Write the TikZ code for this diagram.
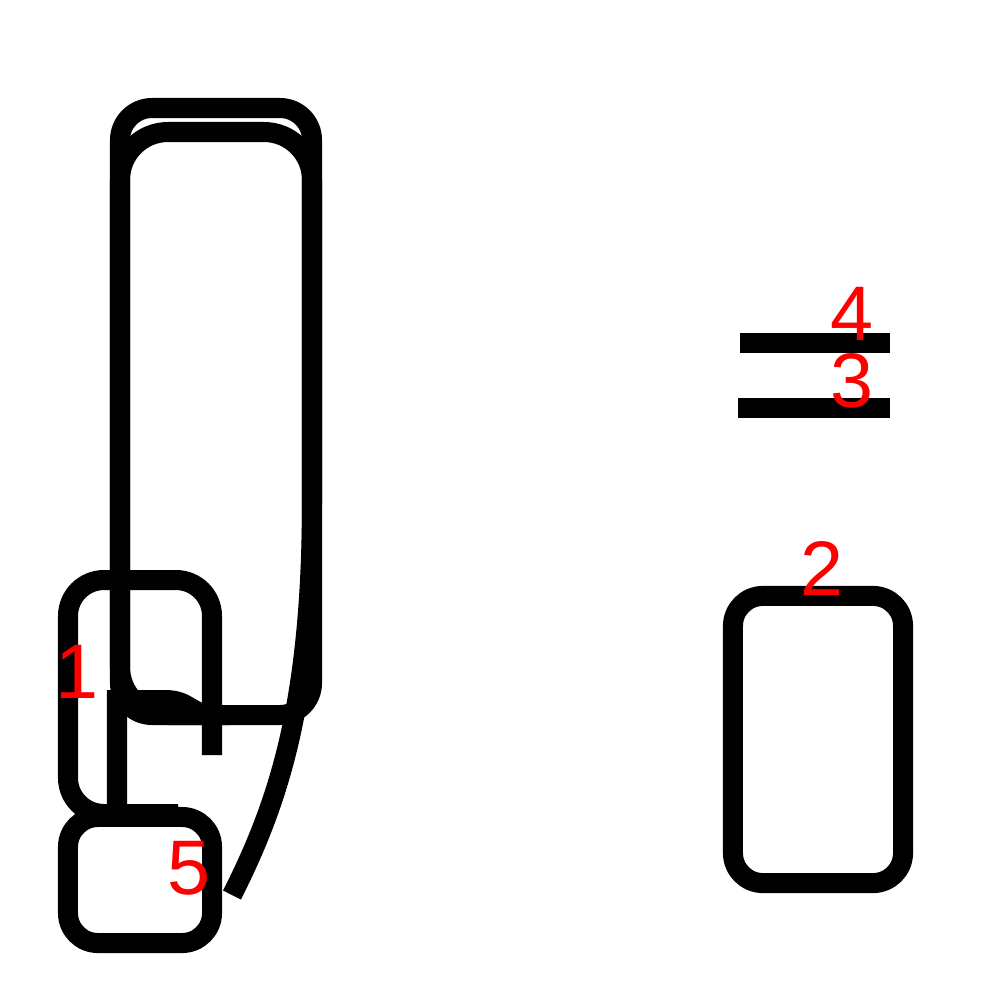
\documentclass[tikz,border=0pt]{standalone}
\usepackage{fontspec}
\setmainfont{Liberation Sans}
\usepackage{tikz}
\usetikzlibrary{positioning}
\definecolor{trazo}{HTML}{000000}
\definecolor{rojo}{HTML}{FF0000}

\begin{document}
\begin{tikzpicture}[x=0.01cm, y=-0.01cm, line width=0.2cm,
    caja/.style={draw=trazo, line width=0.2cm, rounded corners=0.3cm, inner sep=0pt},
    etiqueta/.style={text=rojo, font=\fontsize{22}{26}\selectfont, inner sep=0pt}]
  \useasboundingbox (0,0) rectangle (1000,1000);
  % columna alta
  \draw[draw=trazo, rounded corners=0.32cm] (120,108) rectangle (312,715);
  \draw[draw=trazo, rounded corners=0.48cm] (230,715) -- (120,715) -- (120,132) -- (312,132) -- (312,450)
    .. controls (312,700) and (280,800) .. (232,895);
  \draw[draw=trazo] (117,807) -- (117,700) -- (165,700) .. controls (190,700) and (190,715) .. (215,715);
  % cajas
  \draw[draw=trazo, rounded corners=0.36cm] (212,755) -- (212,580) -- (68,580) -- (68,814) -- (178,814);
  \node[caja, minimum width=1.44cm, minimum height=1.26cm] (caja5) at (140,880) {};
  \node[caja, minimum width=1.7cm, minimum height=2.87cm] (caja2) at (818,739.5) {};
  % barras
  \coordinate (b4i) at (740,343);
  \coordinate (b4d) at (890,343);
  \coordinate (b3i) at (738,407.5);
  \coordinate (b3d) at (890,407.5);
  \draw[draw=trazo] (b4i) -- (b4d);
  \draw[draw=trazo] (b3i) -- (b3d);
  % etiquetas
  \node[etiqueta] (e1) at (77,672) {1};
  \node[etiqueta] (e2) at (822,568) {2};
  \node[etiqueta] (e3) at (852,381) {3};
  \node[etiqueta] (e4) at (852,314) {4};
  \node[etiqueta] (e5) at (189,868) {5};
\end{tikzpicture}
\end{document}
